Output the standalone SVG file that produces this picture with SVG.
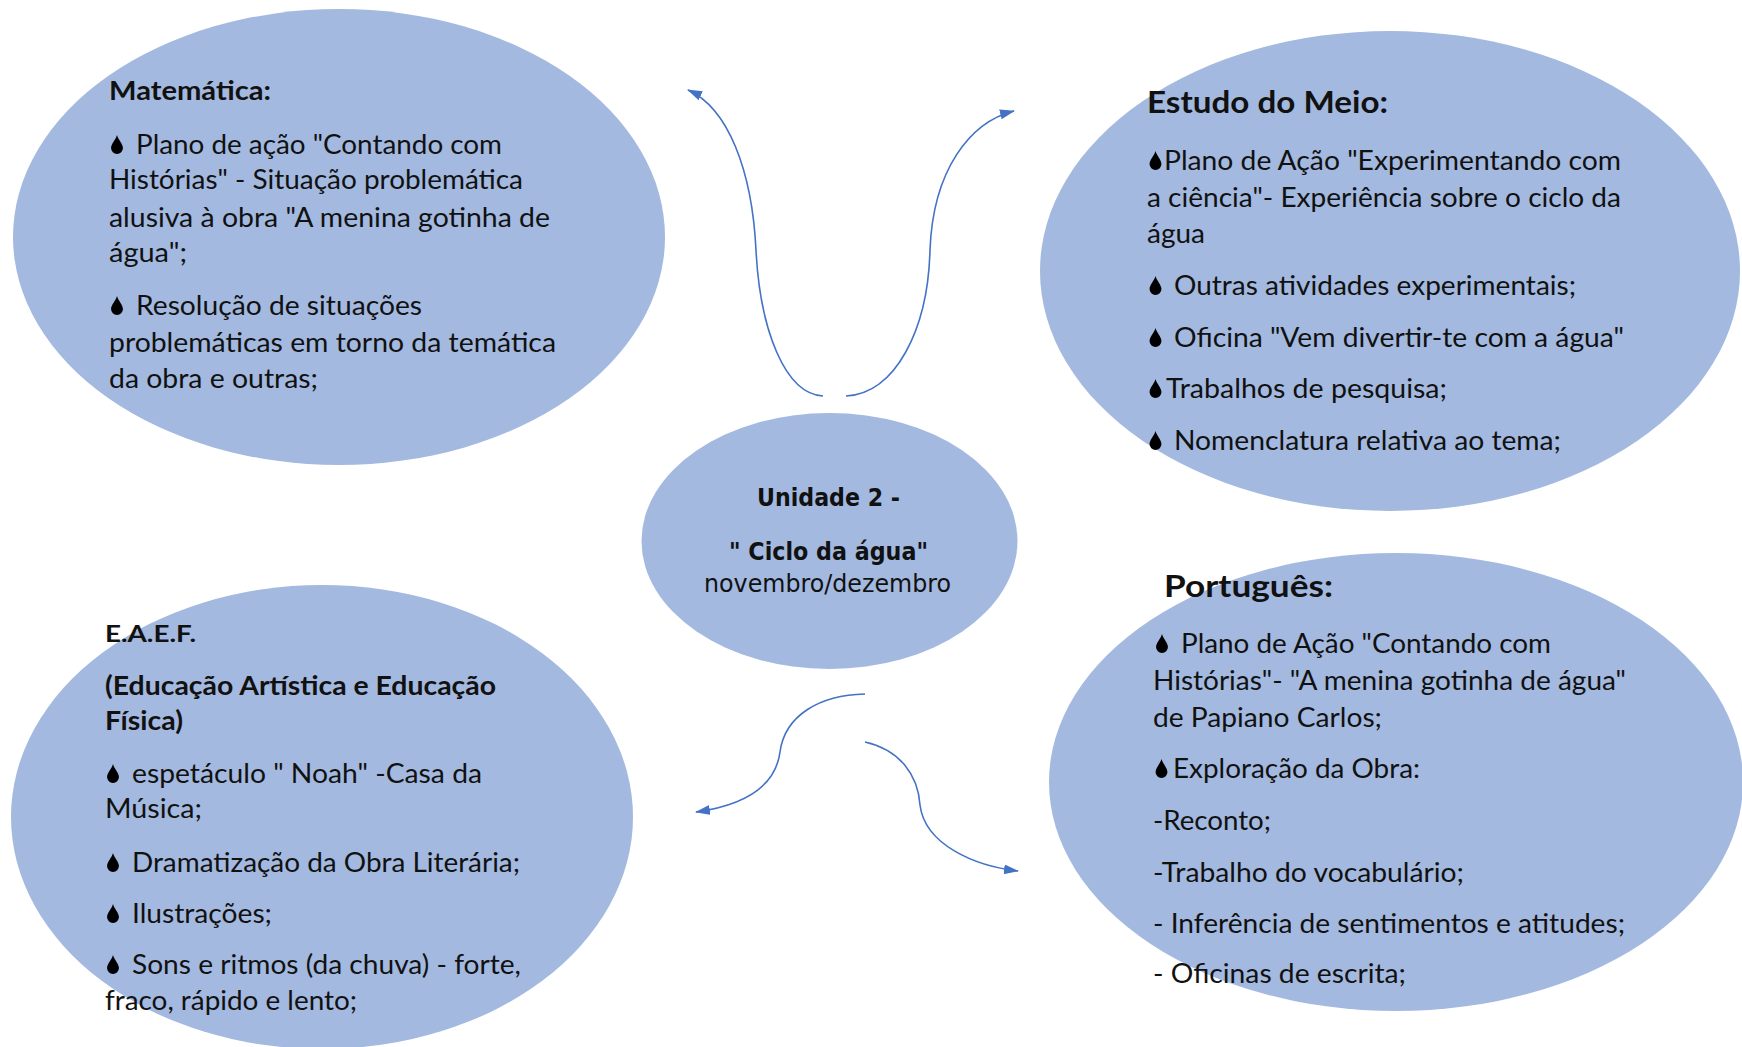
<svg xmlns="http://www.w3.org/2000/svg" xmlns:xlink="http://www.w3.org/1999/xlink" width="1742" height="1047" viewBox="0 0 1742 1047">
<style>
.bub{fill:#A3B9E0}
.t{font-family:Lato,"Open Sans","Liberation Sans",sans-serif;font-size:26px;fill:#111}
.b{font-weight:bold}
.h{font-size:31px}
.c{font-family:"DejaVu Sans","Liberation Sans",sans-serif;font-size:25px;fill:#111}
.con{fill:none;stroke:#4472C4;stroke-width:1.6}
</style>
<defs>
<marker id="ah" markerUnits="userSpaceOnUse" markerWidth="16" markerHeight="12" refX="14" refY="5" orient="auto">
<path d="M0,0 L15,5 L0,10 Z" fill="#4472C4"/>
</marker>
<symbol id="drop" viewBox="0 0 10 16">
<path d="M5 0 C6 4 10 7.5 10 11 A5 5 0 0 1 0 11 C0 7.5 4 4 5 0 Z" fill="#000"/>
</symbol>
</defs>
<rect width="1742" height="1047" fill="#fff"/>

<g id="matematica">
<ellipse class="bub" cx="339" cy="237" rx="326" ry="228"/>
<text class="t b" x="109" y="100" textLength="162" lengthAdjust="spacingAndGlyphs">Matemática:</text>
<use href="#drop" x="111" y="135" width="12" height="19"/>
<text class="t" x="136" y="154" textLength="366" lengthAdjust="spacingAndGlyphs">Plano de ação "Contando com</text>
<text class="t" x="109" y="189" textLength="414" lengthAdjust="spacingAndGlyphs">Histórias" - Situação problemática</text>
<text class="t" x="109" y="227" textLength="441" lengthAdjust="spacingAndGlyphs">alusiva à obra "A menina gotinha de</text>
<text class="t" x="109" y="262" textLength="78" lengthAdjust="spacingAndGlyphs">água";</text>
<use href="#drop" x="111" y="296" width="12" height="19"/>
<text class="t" x="136" y="315" textLength="286" lengthAdjust="spacingAndGlyphs">Resolução de situações</text>
<text class="t" x="109" y="352" textLength="447" lengthAdjust="spacingAndGlyphs">problemáticas em torno da temática</text>
<text class="t" x="109" y="388" textLength="209" lengthAdjust="spacingAndGlyphs">da obra e outras;</text>
</g>

<g id="estudo-do-meio">
<ellipse class="bub" cx="1390" cy="271" rx="350" ry="240"/>
<text class="t b h" x="1147" y="113" textLength="241" lengthAdjust="spacingAndGlyphs">Estudo do Meio:</text>
<use href="#drop" x="1149" y="151" width="13" height="19"/>
<text class="t" x="1164" y="170" textLength="457" lengthAdjust="spacingAndGlyphs">Plano de Ação "Experimentando com</text>
<text class="t" x="1147" y="207" textLength="474" lengthAdjust="spacingAndGlyphs">a ciência"- Experiência sobre o ciclo da</text>
<text class="t" x="1147" y="243" textLength="58" lengthAdjust="spacingAndGlyphs">água</text>
<use href="#drop" x="1149" y="276" width="13" height="19"/>
<text class="t" x="1174" y="295" textLength="402" lengthAdjust="spacingAndGlyphs">Outras atividades experimentais;</text>
<use href="#drop" x="1149" y="328" width="13" height="19"/>
<text class="t" x="1174" y="347" textLength="450" lengthAdjust="spacingAndGlyphs">Oficina "Vem divertir-te com a água"</text>
<use href="#drop" x="1149" y="379" width="13" height="19"/>
<text class="t" x="1166" y="398" textLength="281" lengthAdjust="spacingAndGlyphs">Trabalhos de pesquisa;</text>
<use href="#drop" x="1149" y="431" width="13" height="19"/>
<text class="t" x="1174" y="450" textLength="387" lengthAdjust="spacingAndGlyphs">Nomenclatura relativa ao tema;</text>
</g>

<g id="unidade">
<ellipse class="bub" cx="829.5" cy="541" rx="188" ry="128"/>
<text class="c b" x="757" y="506" textLength="143" lengthAdjust="spacingAndGlyphs">Unidade 2 -</text>
<text class="c b" x="729" y="560" textLength="199" lengthAdjust="spacingAndGlyphs">" Ciclo da água"</text>
<text class="c" x="704" y="592" textLength="247" lengthAdjust="spacingAndGlyphs">novembro/dezembro</text>
</g>

<g id="eaef">
<ellipse class="bub" cx="322" cy="817" rx="311" ry="232"/>
<text class="t b" x="105" y="642" textLength="91" lengthAdjust="spacingAndGlyphs" style="font-size:23px">E.A.E.F.</text>
<text class="t b" x="105" y="695" textLength="391" lengthAdjust="spacingAndGlyphs">(Educação Artística e Educação</text>
<text class="t b" x="105" y="730" textLength="78" lengthAdjust="spacingAndGlyphs">Física)</text>
<use href="#drop" x="107" y="764" width="12" height="19"/>
<text class="t" x="132" y="783" textLength="350" lengthAdjust="spacingAndGlyphs">espetáculo " Noah" -Casa da</text>
<text class="t" x="105" y="818" textLength="97" lengthAdjust="spacingAndGlyphs">Música;</text>
<use href="#drop" x="107" y="853" width="12" height="19"/>
<text class="t" x="132" y="872" textLength="388" lengthAdjust="spacingAndGlyphs">Dramatização da Obra Literária;</text>
<use href="#drop" x="107" y="904" width="12" height="19"/>
<text class="t" x="132" y="923" textLength="140" lengthAdjust="spacingAndGlyphs">Ilustrações;</text>
<use href="#drop" x="107" y="955" width="12" height="19"/>
<text class="t" x="132" y="974" textLength="389" lengthAdjust="spacingAndGlyphs">Sons e ritmos (da chuva) - forte,</text>
<text class="t" x="105" y="1010" textLength="252" lengthAdjust="spacingAndGlyphs">fraco, rápido e lento;</text>
</g>

<g id="portugues">
<ellipse class="bub" cx="1396" cy="782" rx="347" ry="229"/>
<text class="t b h" x="1164" y="597" textLength="169" lengthAdjust="spacingAndGlyphs">Português:</text>
<use href="#drop" x="1156" y="634" width="12" height="19"/>
<text class="t" x="1181" y="653" textLength="370" lengthAdjust="spacingAndGlyphs">Plano de Ação "Contando com</text>
<text class="t" x="1153" y="690" textLength="473" lengthAdjust="spacingAndGlyphs">Histórias"- "A menina gotinha de água"</text>
<text class="t" x="1153" y="727" textLength="229" lengthAdjust="spacingAndGlyphs">de Papiano Carlos;</text>
<use href="#drop" x="1155" y="759" width="13" height="19"/>
<text class="t" x="1173" y="778" textLength="247" lengthAdjust="spacingAndGlyphs">Exploração da Obra:</text>
<text class="t" x="1153" y="830" textLength="118" lengthAdjust="spacingAndGlyphs">-Reconto;</text>
<text class="t" x="1153" y="882" textLength="311" lengthAdjust="spacingAndGlyphs">-Trabalho do vocabulário;</text>
<text class="t" x="1153" y="933" textLength="472" lengthAdjust="spacingAndGlyphs">- Inferência de sentimentos e atitudes;</text>
<text class="t" x="1153" y="983" textLength="253" lengthAdjust="spacingAndGlyphs">- Oficinas de escrita;</text>
</g>

<g id="connectors">
<path class="con" marker-end="url(#ah)" d="M823 396 C785 394 760 330 756 250 C752 170 728 108 688 90"/>
<path class="con" marker-end="url(#ah)" d="M846 396 C895 394 928 330 930 250 C933 170 970 122 1014 111"/>
<path class="con" marker-end="url(#ah)" d="M865 694 C820 695 785 715 780 752 C775 790 738 806 696 812"/>
<path class="con" marker-end="url(#ah)" d="M865 742 C900 750 918 775 920 805 C925 845 975 866 1018 871"/>
</g>
</svg>
